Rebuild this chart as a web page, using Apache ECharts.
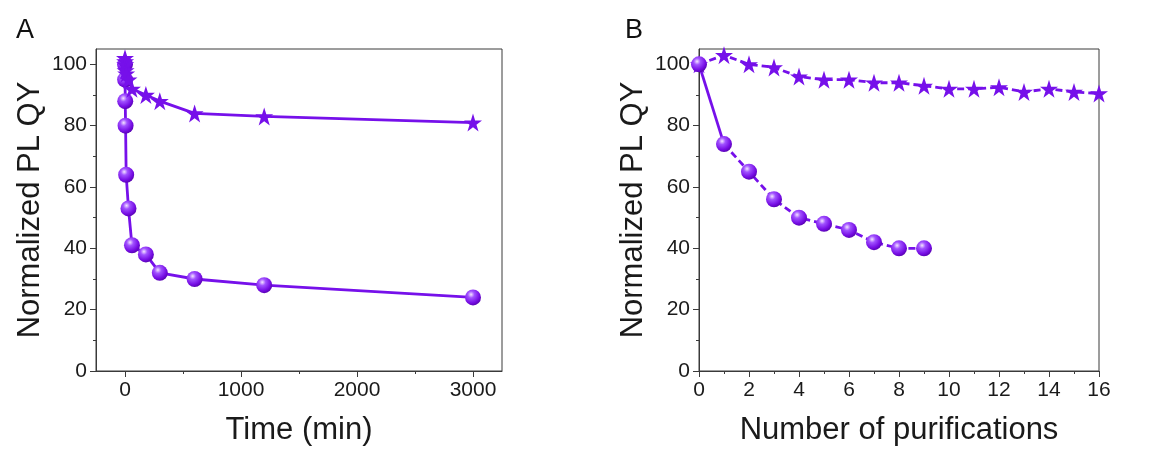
<!DOCTYPE html>
<html lang="en">
<head>
    <meta charset="utf-8" />
    <script src="https://cdn.jsdelivr.net/npm/echarts@6/dist/echarts.min.js"></script>
    <style>
        html, body { margin: 0; padding: 0; background: #fff; }
        #view { width: 1157px; height: 449px; }
    </style>
</head>
<body>

<div id="view"></div>

<script>
    // panel A : PL QY vs time
    var timeMin = [0, 1, 2, 5, 10, 30, 60, 180, 300, 600, 1200, 3000];
    var qyStarA = [102, 101, 100, 98, 97, 95, 92, 90, 88, 84, 83, 81];
    var qyBallA = [100, 95, 88, 80, 64, 53, 41, 38, 32, 30, 28, 24];

    // panel B : PL QY vs number of purifications
    var purifStar = [0, 1, 2, 3, 4, 5, 6, 7, 8, 9, 10, 11, 12, 13, 14, 15, 16];
    var qyStarB = [100, 103, 100, 99, 96, 95, 95, 94, 94, 93, 92, 92, 92.5, 91, 92, 91, 90.5];
    var purifBall = [0, 1, 2, 3, 4, 5, 6, 7, 8, 9];
    var qyBallB = [100, 74, 65, 56, 50, 48, 46, 42, 40, 40];

    // tick labels
    var yMajor = [0, 20, 40, 60, 80, 100];
    var yMinor = [10, 30, 50, 70, 90];
    var xMajorA = [0, 1000, 2000, 3000];
    var xMinorA = [500, 1500, 2500];
    var xMajorB = [0, 2, 4, 6, 8, 10, 12, 14, 16];
    var xMinorB = [1, 3, 5, 7, 9, 11, 13, 15];

    var purple = '#7610ea';
    var fontFam = '"Liberation Sans", Arial, sans-serif';
    var axisClr = '#3a3a3a';
    var starPath = 'path://M50,0 L61.8,36.3 L100,36.3 L69.1,58.8 L80.9,95.1 L50,72.6 L19.1,95.1 L30.9,58.8 L0,36.3 L38.2,36.3 Z';

    var ballColor = {
        type: 'radial', x: 0.38, y: 0.32, r: 0.75,
        colorStops: [
            {offset: 0, color: '#f3e4ff'},
            {offset: 0.28, color: '#a152ff'},
            {offset: 0.7, color: '#760de4'},
            {offset: 1, color: '#5000a4'}
        ]
    };

    function pairs(xs, ys){
        return xs.map(function(x, i){ return [x, ys[i]]; });
    }

    function xAxes(grid, min, max, major, minor, name){
        return [{
            type: 'value', gridIndex: grid, min: min, max: max,
            name: name, nameLocation: 'middle', nameGap: 44,
            nameTextStyle: {fontFamily: fontFam, fontSize: 31, color: '#1a1a1a'},
            axisLine: {onZero: false, lineStyle: {color: axisClr, width: 1}},
            axisTick: {show: true, length: 6, customValues: major, lineStyle: {color: axisClr}},
            axisLabel: {customValues: major, fontFamily: fontFam, fontSize: 21, color: '#1a1a1a', margin: 9,
                formatter: function(v){ return String(v); }},
            splitLine: {show: false}
        }, {
            type: 'value', gridIndex: grid, min: min, max: max, position: 'bottom',
            axisLine: {show: false, onZero: false},
            axisTick: {show: true, length: 3, customValues: minor, lineStyle: {color: axisClr}},
            axisLabel: {show: false},
            splitLine: {show: false}
        }];
    }

    function yAxes(grid){
        return [{
            type: 'value', gridIndex: grid, min: 0, max: 105, position: 'left',
            name: 'Normalized PL QY', nameLocation: 'middle', nameGap: 50, nameRotate: 90,
            nameTextStyle: {fontFamily: fontFam, fontSize: 31, color: '#1a1a1a'},
            axisLine: {show: true, onZero: false, lineStyle: {color: axisClr, width: 1}},
            axisTick: {show: true, length: 6, customValues: yMajor, lineStyle: {color: axisClr}},
            axisLabel: {customValues: yMajor, fontFamily: fontFam, fontSize: 21, color: '#1a1a1a', margin: 9},
            splitLine: {show: false}
        }, {
            type: 'value', gridIndex: grid, min: 0, max: 105, position: 'left',
            axisLine: {show: false, onZero: false},
            axisTick: {show: true, length: 3, customValues: yMinor, lineStyle: {color: axisClr}},
            axisLabel: {show: false},
            splitLine: {show: false}
        }];
    }

    function lineSeries(xi, yi, data, symbol, size, dashed, color, showSym){
        return {
            type: 'line', xAxisIndex: xi, yAxisIndex: yi, data: data,
            symbol: symbol, symbolSize: size, showSymbol: showSym !== false,
            lineStyle: {color: purple, width: 2.8, type: dashed ? [7, 4] : 'solid'},
            itemStyle: {color: color, borderWidth: 0},
            emphasis: {disabled: true},
            z: 2,
            animation: false
        };
    }

    // first purification step is drawn solid, the rest dashed
    var ballB = pairs(purifBall, qyBallB);

    var option = {
        animation: false,
        title: [
            {text: 'A', left: 11, top: 12, textStyle: {fontFamily: fontFam, fontSize: 27, fontWeight: 'normal', color: '#111'}},
            {text: 'B', left: 620, top: 12, textStyle: {fontFamily: fontFam, fontSize: 27, fontWeight: 'normal', color: '#111'}}
        ],
        grid: [
            {left: 96, right: 655, top: 49, bottom: 78, outerBoundsMode: 'none', containLabel: false,
                show: true, borderColor: axisClr, borderWidth: 1},
            {left: 699, right: 58, top: 49, bottom: 78, outerBoundsMode: 'none', containLabel: false,
                show: true, borderColor: axisClr, borderWidth: 1}
        ],
        xAxis: xAxes(0, -250, 3250, xMajorA, xMinorA, 'Time (min)')
            .concat(xAxes(1, 0, 16, xMajorB, xMinorB, 'Number of purifications')),
        yAxis: yAxes(0).concat(yAxes(1)),
        series: [
            lineSeries(0, 0, pairs(timeMin, qyBallA), 'circle', 16, false, ballColor),
            lineSeries(0, 0, pairs(timeMin, qyStarA), starPath, 18, false, purple),
            lineSeries(2, 2, pairs(purifStar, qyStarB), starPath, 18, true, purple),
            lineSeries(2, 2, ballB.slice(0, 2), 'circle', 16, false, ballColor, false),
            lineSeries(2, 2, ballB.slice(1), 'circle', 16, true, ballColor),
            lineSeries(2, 2, ballB.slice(0, 1), 'circle', 16, false, ballColor)
        ]
    };

    var chart = echarts.init(document.getElementById('view'), null, {renderer: 'canvas'});
    chart.setOption(option);
</script>

</body>
</html>
